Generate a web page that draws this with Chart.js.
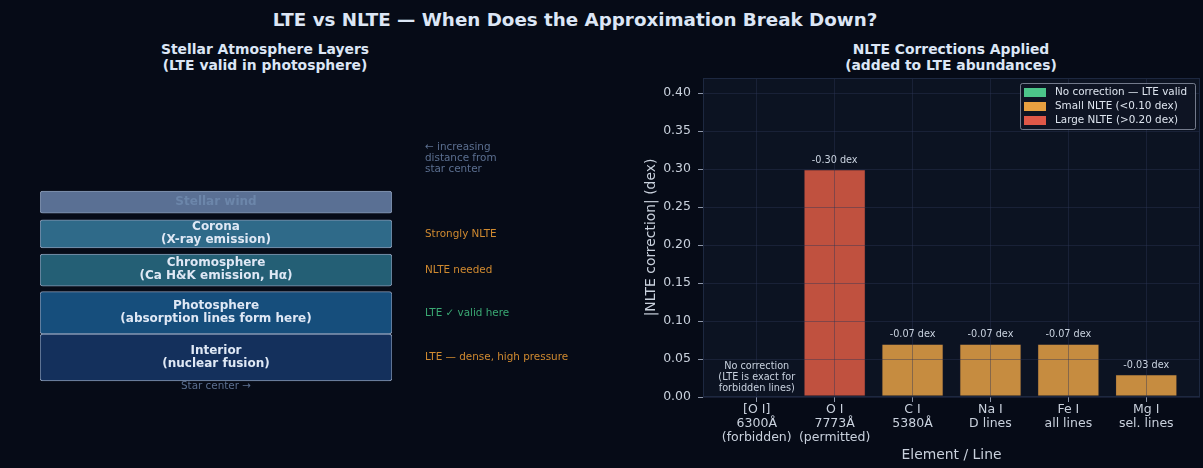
<!DOCTYPE html>
<html><head><meta charset="utf-8">
<script src="https://cdn.jsdelivr.net/npm/chart.js@4.4.1/dist/chart.umd.min.js"></script>
<style>
html,body{margin:0;padding:0;background:#060b17;width:1203px;height:468px;overflow:hidden;font-family:"DejaVu Sans",sans-serif;}
.t{position:absolute;color:#dce6f5;font-weight:bold;text-align:center;white-space:nowrap;transform:translateX(-50%);}
#title{left:575px;top:9px;font-size:18.3px;line-height:22px;}
.sub{font-size:13.9px;line-height:15.5px;}
#subL{left:265px;top:42px}
#subR{left:951px;top:42px}
canvas{position:absolute;top:0}
</style></head><body>
<div id="title" class="t">LTE vs NLTE — When Does the Approximation Break Down?</div>
<div id="subL" class="t sub">Stellar Atmosphere Layers<br>(LTE valid in photosphere)</div>
<div id="subR" class="t sub">NLTE Corrections Applied<br>(added to LTE abundances)</div>
<canvas id="left" width="600" height="468" style="left:0;width:600px;height:468px"></canvas>
<canvas id="right" width="603" height="468" style="left:600px;width:603px;height:468px"></canvas>
<script>
// ---------- Left panel data: atmosphere layers (relative heights) ----------
const layerNames  = ['Interior', 'Photosphere', 'Chromosphere', 'Corona', 'Stellar wind'];
const layerSub    = ['(nuclear fusion)', '(absorption lines form here)', '(Ca H&K emission, Hα)', '(X-ray emission)', ''];
const layerBottom = [0.00, 1.00, 2.02, 2.83, 3.57];
const layerTop    = [1.00, 1.90, 2.70, 3.43, 4.04];
const layerColors = ['#14305c', '#164e7c', '#245f75', '#2f6a89', '#5a7094'];
const layerTextColors = ['#dfe8f5', '#dfe8f5', '#dfe8f5', '#dfe8f5', '#6c86aa'];
const layerNotes  = ['LTE — dense, high pressure', 'LTE ✓ valid here', 'NLTE needed', 'Strongly NLTE', ''];
const noteColors  = ['#d08a30', '#3aa873', '#d08a30', '#d08a30', '#d08a30'];
const distanceNote = ['← increasing', 'distance from', 'star center'];
const centerNote = 'Star center →';

// ---------- Right panel data: NLTE corrections ----------
const categories = [
  ['[O I]', '6300Å', '(forbidden)'],
  ['O I', '7773Å', '(permitted)'],
  ['C I', '5380Å'],
  ['Na I', 'D lines'],
  ['Fe I', 'all lines'],
  ['Mg I', 'sel. lines']
];
const nlteCorrection = [0.00, -0.30, -0.07, -0.07, -0.07, -0.03];
const correctionClass = ['none', 'large', 'small', 'small', 'small', 'small'];
const yTickValues = [0.00, 0.05, 0.10, 0.15, 0.20, 0.25, 0.30, 0.35, 0.40];
const legendLabels = ['No correction — LTE valid', 'Small NLTE (<0.10 dex)', 'Large NLTE (>0.20 dex)'];
const legendClasses = ['none', 'small', 'large'];
const legendColors = {none: '#4cc68a', small: '#e8a040', large: '#e05848'};
const barColors = {none: '#3fa472', small: '#c68c40', large: '#c0513f'};
const zeroNote = ['No correction', '(LTE is exact for', 'forbidden lines)'];

const FONT = '"DejaVu Sans", sans-serif';

// ---------- Left chart ----------
const leftDecor = {
  id: 'leftDecor',
  afterDatasetsDraw(c) {
    const ctx = c.ctx, a = c.chartArea, ys = c.scales.y;
    const cx = (a.left + a.right) / 2;
    ctx.save();
    ctx.textBaseline = 'middle';
    layerNames.forEach((n, i) => {
      const my = ys.getPixelForValue((layerBottom[i] + layerTop[i]) / 2) - 0.5;
      ctx.textAlign = 'center';
      ctx.font = 'bold 12px ' + FONT;
      ctx.fillStyle = layerTextColors[i];
      if (layerSub[i]) {
        ctx.fillText(n, cx, my - 6.5);
        ctx.fillText(layerSub[i], cx, my + 6.5);
      } else {
        ctx.fillText(n, cx, my + 0.5);
      }
      if (layerNotes[i]) {
        ctx.textAlign = 'left';
        ctx.font = '10.4px ' + FONT;
        ctx.fillStyle = noteColors[i];
        ctx.fillText(layerNotes[i], a.right + 33, my + 0.5);
      }
    });
    // distance note above top layer
    const topPx = ys.getPixelForValue(layerTop[layerTop.length - 1]);
    ctx.textAlign = 'left';
    ctx.font = '10.4px ' + FONT;
    ctx.fillStyle = '#5b6f90';
    distanceNote.forEach((t, k) => ctx.fillText(t, a.right + 33, topPx - 44 + k * 11));
    // star center note
    const botPx = ys.getPixelForValue(layerBottom[0]);
    ctx.textAlign = 'center';
    ctx.fillText(centerNote, cx, botPx + 5);
    ctx.restore();
  }
};

new Chart(document.getElementById('left'), {
  type: 'bar',
  data: {
    labels: ['layers'],
    datasets: layerNames.map((n, i) => ({
      label: n,
      data: [[layerBottom[i], layerTop[i]]],
      backgroundColor: layerColors[i],
      borderColor: 'rgba(165,185,215,0.8)',
      borderWidth: 1,
      borderRadius: 3,
      borderSkipped: false,
      grouped: false,
      barPercentage: 1,
      categoryPercentage: 1
    }))
  },
  options: {
    responsive: false,
    animation: false,
    layout: {padding: {left: 40, right: 208, top: 122.5, bottom: 63.5}},
    plugins: {legend: {display: false}, tooltip: {enabled: false}},
    scales: {
      x: {display: false},
      y: {display: false, min: -0.5, max: 5.5}
    }
  },
  plugins: [leftDecor]
});

// ---------- Right chart ----------
const rightDecor = {
  id: 'rightDecor',
  beforeDraw(c) {
    const a = c.chartArea, ctx = c.ctx;
    ctx.save();
    ctx.fillStyle = '#0c1322';
    ctx.fillRect(a.left, a.top, a.width, a.height);
    ctx.restore();
  },
  afterDraw(c) {
    const a = c.chartArea, ctx = c.ctx;
    ctx.save();
    // spines
    ctx.strokeStyle = '#1d2840';
    ctx.lineWidth = 1;
    ctx.strokeRect(a.left + 0.5, a.top + 0.5, a.width - 1, a.height - 1);
    // bar labels
    const meta = c.getDatasetMeta(0);
    ctx.textAlign = 'center';
    ctx.textBaseline = 'middle';
    ctx.font = '9.7px ' + FONT;
    ctx.fillStyle = '#c9d2df';
    nlteCorrection.forEach((v, i) => {
      const el = meta.data[i];
      if (v !== 0) {
        ctx.fillText(v.toFixed(2) + ' dex', el.x, el.y - 9);
      } else {
        zeroNote.forEach((t, k) => ctx.fillText(t, el.x, el.y - 31 + k * 11));
      }
    });
    // legend box
    const w = 175, h = 46;
    const lx = a.right - 5 - w, ly = a.top + 5;
    ctx.fillStyle = 'rgba(14,21,36,0.9)';
    ctx.strokeStyle = 'rgba(150,158,175,0.75)';
    ctx.beginPath();
    if (ctx.roundRect) ctx.roundRect(lx + 0.5, ly + 0.5, w, h, 2); else ctx.rect(lx + 0.5, ly + 0.5, w, h);
    ctx.fill(); ctx.stroke();
    ctx.textAlign = 'left';
    ctx.font = '10.4px ' + FONT;
    legendLabels.forEach((t, k) => {
      const ry = ly + 9 + k * 14;
      ctx.fillStyle = legendColors[legendClasses[k]];
      ctx.fillRect(lx + 4, ry - 4, 22, 9);
      ctx.fillStyle = '#dde4ee';
      ctx.fillText(t, lx + 35, ry + 0.5);
    });
    ctx.restore();
  }
};

const gridColor = 'rgba(45,52,85,0.42)';
new Chart(document.getElementById('right'), {
  type: 'bar',
  data: {
    datasets: [{
      data: nlteCorrection.map((v, i) => ({x: i, y: Math.abs(v)})),
      backgroundColor: correctionClass.map(k => barColors[k]),
      borderColor: 'rgba(25,28,45,0.55)',
      borderWidth: nlteCorrection.map(v => v === 0 ? 0 : 1),
      borderSkipped: false,
      barPercentage: 0.8,
      categoryPercentage: 1
    }]
  },
  options: {
    responsive: false,
    animation: false,
    layout: {padding: {left: 39, right: 3, top: 78, bottom: 0}},
    plugins: {legend: {display: false}, tooltip: {enabled: false}},
    scales: {
      x: {
        type: 'linear',
        offset: false,
        min: -0.69, max: 5.69,
        afterBuildTicks: s => { s.ticks = categories.map((_, i) => ({value: i})); },
        afterFit: s => { s.height = 71; },
        ticks: {
          callback: (v, i) => categories[i],
          color: '#c9d1dd',
          font: {family: FONT, size: 12.5, lineHeight: 1.12},
          padding: 1,
          maxRotation: 0, autoSkip: false
        },
        grid: {color: gridColor, tickColor: '#8c95a8', tickLength: 5, z: 1, offset: false},
        border: {display: false},
        title: {display: true, text: 'Element / Line', color: '#c9d1dd', font: {family: FONT, size: 13.9}}
      },
      y: {
        min: 0, max: 0.42,
        afterBuildTicks: s => { s.ticks = yTickValues.map(v => ({value: v})); },
        afterFit: s => { s.width = 64; },
        ticks: {
          callback: v => v.toFixed(2),
          color: '#c9d1dd',
          font: {family: FONT, size: 12.5},
          padding: 7
        },
        grid: {color: gridColor, tickColor: '#8c95a8', tickLength: 5, z: 1},
        border: {display: false},
        title: {display: true, text: '|NLTE correction| (dex)', color: '#c9d1dd', font: {family: FONT, size: 13.9}}
      }
    }
  },
  plugins: [rightDecor]
});
</script>
</body></html>
